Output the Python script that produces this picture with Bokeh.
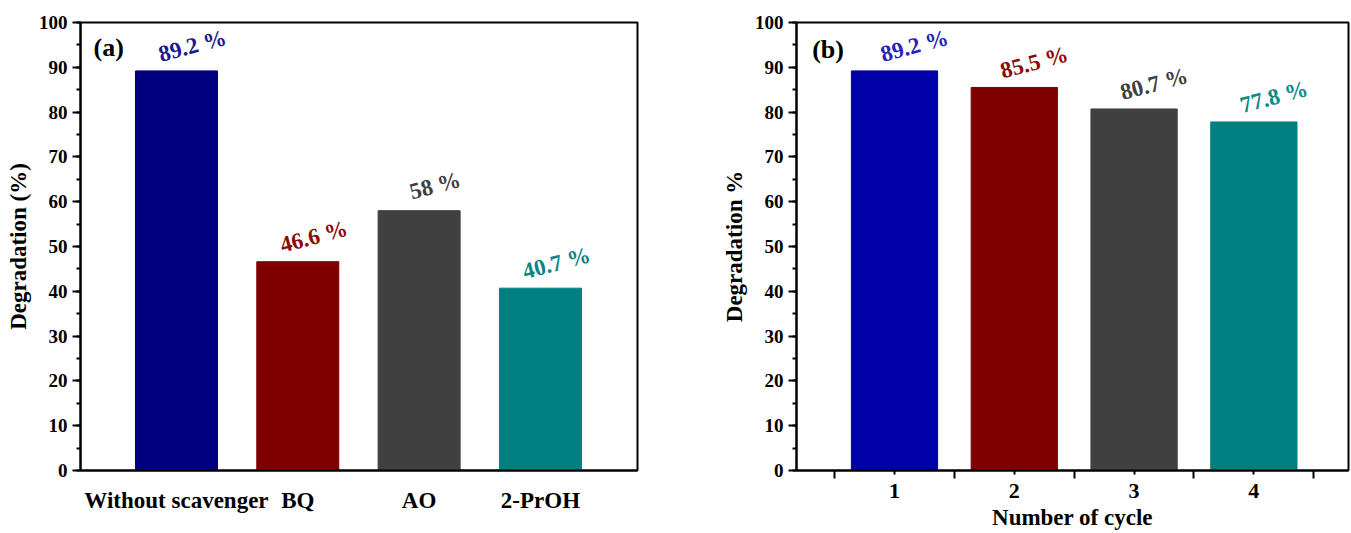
from bokeh.plotting import figure
from bokeh.models import FixedTicker, SingleIntervalTicker, Range1d, Label, ColumnDataSource
from bokeh.layouts import row
from bokeh.core.properties import value
from bokeh.embed import file_html
from bokeh.resources import INLINE

# ---- data ----
scavengers = ["Without scavenger", "BQ", "AO", "2-PrOH"]
scav_values = [89.2, 46.6, 58.0, 40.7]
scav_labels = ["89.2 %", "46.6 %", "58 %", "40.7 %"]

cycles = [1, 2, 3, 4]
cycle_values = [89.2, 85.5, 80.7, 77.8]
cycle_labels = ["89.2 %", "85.5 %", "80.7 %", "77.8 %"]

# ---- styles ----
bar_colors_a = ["#000080", "#800000", "#404040", "#008080"]
text_colors_a = ["#1a1a8c", "#8b0a0a", "#404040", "#0a8585"]
bar_colors_b = ["#0000a8", "#800000", "#404040", "#008080"]
text_colors_b = ["#2424b8", "#8b0a0a", "#404040", "#0a8a8a"]

FONT = "Liberation Serif"


def style_common(p):
    p.grid.visible = False
    p.outline_line_color = "black"
    p.outline_line_width = 2
    p.outline_line_alpha = 1
    p.background_fill_color = "white"
    p.border_fill_color = "white"
    for ax in (p.xaxis[0], p.yaxis[0]):
        ax.axis_line_width = 2
        ax.axis_line_color = "black"
        ax.major_tick_line_width = 2
        ax.minor_tick_line_width = 2
        ax.major_tick_line_color = "black"
        ax.minor_tick_line_color = "black"
        ax.major_tick_in = 0
        ax.minor_tick_in = 0
        ax.major_label_text_font = FONT
        ax.major_label_text_font_style = "bold"
        ax.major_label_text_color = "black"
        ax.axis_label_text_font = FONT
        ax.axis_label_text_font_style = "bold"
        ax.axis_label_text_font_size = "23px"
        ax.axis_label_text_color = "black"
    ya = p.yaxis[0]
    ya.ticker = SingleIntervalTicker(interval=10, num_minor_ticks=2)
    ya.major_tick_out = 8
    ya.minor_tick_out = 4
    ya.major_label_text_font_size = "19px"
    ya.major_label_standoff = 5
    ya.axis_label_standoff = 5


# ---- panel (a) ----
xa = list(range(1, len(scavengers) + 1))
src_a = ColumnDataSource(dict(x=xa, top=scav_values, lab=scav_labels,
                              fc=bar_colors_a, tc=text_colors_a))
p1 = figure(width=690, height=533, x_range=Range1d(0.209, 4.80), y_range=Range1d(0, 100),
            output_backend="svg", toolbar_location=None,
            min_border_left=80, min_border_right=53, min_border_top=22, min_border_bottom=63)
p1.vbar(x="x", top="top", width=0.676, fill_color="fc", line_color="fc", source=src_a)
p1.text(x="x", y="top", text="lab", angle=0.26, x_offset=16, y_offset=-25,
        text_align="center", text_baseline="middle", text_font=value(FONT),
        text_font_style="bold", text_font_size="23px", text_color="tc", source=src_a)
style_common(p1)
p1.yaxis.axis_label = "Degradation (%)"
p1.xaxis.ticker = FixedTicker(ticks=xa)
p1.xaxis.major_label_overrides = {x: s for x, s in zip(xa, scavengers)}
p1.xaxis.major_tick_out = 0
p1.xaxis.minor_tick_out = 0
p1.xaxis.major_label_text_font_size = "23px"
p1.xaxis.major_label_standoff = 17
p1.add_layout(Label(x=0.316, y=94.4, text="(a)", text_font=FONT, text_font_style="bold",
                    text_font_size="26px", text_baseline="middle", text_align="left",
                    text_color="black"))

# ---- panel (b) ----
src_b = ColumnDataSource(dict(x=cycles, top=cycle_values, lab=cycle_labels,
                              fc=bar_colors_b, tc=text_colors_b))
p2 = figure(width=661, height=533, x_range=Range1d(0.182, 4.79), y_range=Range1d(0, 100),
            output_backend="svg", toolbar_location=None,
            min_border_left=106, min_border_right=3, min_border_top=22, min_border_bottom=63)
p2.vbar(x="x", top="top", width=0.72, fill_color="fc", line_color="fc", source=src_b)
p2.text(x="x", y="top", text="lab", angle=0.26, x_offset=20, y_offset=-25,
        text_align="center", text_baseline="middle", text_font=value(FONT),
        text_font_style="bold", text_font_size="23px", text_color="tc", source=src_b)
style_common(p2)
p2.yaxis.axis_label = "Degradation %"
p2.xaxis.axis_label = "Number of cycle"
between = [c - 0.5 for c in cycles] + [cycles[-1] + 0.5]
p2.xaxis.ticker = FixedTicker(ticks=cycles, minor_ticks=between)
p2.xaxis.major_tick_out = 4
p2.xaxis.minor_tick_out = 8
p2.xaxis.major_label_text_font_size = "22px"
p2.xaxis.major_label_standoff = 5
p2.xaxis.axis_label_standoff = 4
p2.add_layout(Label(x=0.313, y=94.0, text="(b)", text_font=FONT, text_font_style="bold",
                    text_font_size="26px", text_baseline="middle", text_align="left",
                    text_color="black"))

layout = row(p1, p2)
open("out.html", "w").write(file_html(layout, INLINE))
